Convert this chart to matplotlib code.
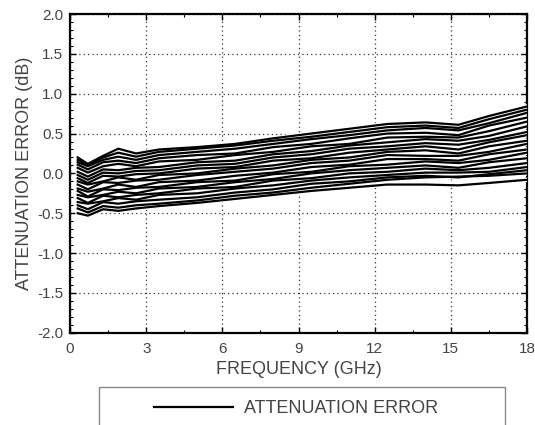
import matplotlib.pyplot as plt
from matplotlib.patches import Rectangle
from matplotlib.ticker import MultipleLocator

plt.rcParams['font.family'] = ['Liberation Sans', 'DejaVu Sans']

# frequency points (GHz)
freq = [0.3, 0.7, 1.3, 1.9, 2.6, 3.5, 5, 6.5, 8, 9.5, 11, 12.5, 14, 15.3, 16.5, 18]

# attenuation error traces (dB), one per attenuation state
t01 = [-0.50, -0.53, -0.45, -0.47, -0.44, -0.41, -0.37, -0.32, -0.27, -0.22, -0.18, -0.14, -0.14, -0.15, -0.12, -0.08]
t02 = [-0.44, -0.49, -0.41, -0.43, -0.40, -0.38, -0.34, -0.28, -0.24, -0.18, -0.13, -0.08, -0.05, -0.04, -0.03, 0.00]
t03 = [-0.40, -0.45, -0.36, -0.38, -0.35, -0.33, -0.30, -0.24, -0.20, -0.13, -0.10, -0.05, -0.03, -0.05, -0.01, 0.04]
t04 = [-0.36, -0.38, -0.35, -0.31, -0.33, -0.27, -0.25, -0.19, -0.15, -0.09, -0.05, -0.02, 0.01, 0.01, 0.02, 0.08]
t05 = [-0.31, -0.37, -0.28, -0.30, -0.27, -0.25, -0.19, -0.17, -0.09, -0.06, 0.00, 0.02, 0.06, 0.04, 0.07, 0.13]
t06 = [-0.27, -0.30, -0.27, -0.23, -0.25, -0.19, -0.17, -0.11, -0.07, 0.00, 0.04, 0.07, 0.10, 0.07, 0.14, 0.19]
t07 = [-0.22, -0.29, -0.20, -0.21, -0.18, -0.17, -0.11, -0.09, -0.01, 0.02, 0.09, 0.11, 0.15, 0.13, 0.17, 0.26]
t08 = [-0.19, -0.23, -0.19, -0.14, -0.17, -0.11, -0.09, -0.03, 0.01, 0.08, 0.11, 0.18, 0.18, 0.16, 0.24, 0.30]
t09 = [-0.14, -0.20, -0.11, -0.12, -0.09, -0.08, -0.02, 0.02, 0.06, 0.13, 0.16, 0.23, 0.22, 0.22, 0.27, 0.37]
t10 = [-0.10, -0.14, -0.10, -0.05, -0.08, -0.02, 0.00, 0.06, 0.10, 0.17, 0.20, 0.27, 0.29, 0.25, 0.34, 0.41]
t11 = [-0.06, -0.12, -0.03, -0.04, -0.01, 0.00, 0.06, 0.08, 0.16, 0.19, 0.26, 0.30, 0.34, 0.30, 0.39, 0.48]
t12 = [-0.02, -0.08, 0.01, 0.00, 0.03, 0.04, 0.10, 0.12, 0.20, 0.24, 0.31, 0.34, 0.38, 0.36, 0.42, 0.52]
t13 = [0.02, -0.04, 0.05, 0.04, 0.07, 0.08, 0.14, 0.16, 0.24, 0.28, 0.35, 0.39, 0.43, 0.41, 0.47, 0.59]
t14 = [0.07, 0.01, 0.09, 0.12, 0.09, 0.15, 0.17, 0.23, 0.27, 0.34, 0.37, 0.45, 0.46, 0.45, 0.53, 0.65]
t15 = [0.11, 0.05, 0.14, 0.16, 0.13, 0.19, 0.23, 0.25, 0.33, 0.37, 0.44, 0.50, 0.51, 0.48, 0.60, 0.70]
t16 = [0.14, 0.09, 0.17, 0.21, 0.17, 0.23, 0.27, 0.31, 0.37, 0.43, 0.48, 0.54, 0.57, 0.54, 0.63, 0.76]
t17 = [0.17, 0.11, 0.20, 0.26, 0.21, 0.27, 0.31, 0.35, 0.41, 0.46, 0.52, 0.58, 0.60, 0.57, 0.68, 0.80]
t18 = [0.20, 0.12, 0.22, 0.31, 0.25, 0.30, 0.33, 0.37, 0.44, 0.50, 0.56, 0.62, 0.64, 0.61, 0.72, 0.84]
traces = [t01, t02, t03, t04, t05, t06, t07, t08, t09, t10, t11, t12, t13, t14, t15, t16, t17, t18]

txt = '#444444'

fig = plt.figure(figsize=(5.35, 4.25), dpi=100)
ax = fig.add_axes([0.131, 0.217, 0.854, 0.750])

for i, t in enumerate(traces):
    ax.plot(freq, t, color='white', lw=3.2, zorder=3)
    ax.plot(freq, t, color='black', lw=1.6, zorder=4,
            label='ATTENUATION ERROR' if i == 0 else None)

ax.set_xlim(0, 18)
ax.set_ylim(-2.0, 2.0)
ax.xaxis.set_major_locator(MultipleLocator(3))
ax.xaxis.set_minor_locator(MultipleLocator(1.5))
ax.yaxis.set_major_locator(MultipleLocator(0.5))
ax.yaxis.set_minor_locator(MultipleLocator(0.1))
ax.set_yticks(ax.get_yticks())
ax.set_yticklabels([f'{v:.1f}' for v in ax.get_yticks()])
ax.set_ylim(-2.0, 2.0)
ax.tick_params(which='both', direction='in', top=True, right=True,
               colors='black', labelcolor=txt, labelsize=11, pad=5)
ax.tick_params(axis='x', which='major', pad=7)
ax.tick_params(which='major', length=4, width=1)
ax.tick_params(which='minor', length=2, width=0.8)
ax.grid(True, which='major', color='#333333', linestyle=(0, (1, 2.5)), lw=0.9)
for s in ax.spines.values():
    s.set_linewidth(1.6)

ax.set_xlabel('FREQUENCY (GHz)', color=txt, fontsize=13, labelpad=3)
ax.set_ylabel('ATTENUATION ERROR (dB)', color=txt, fontsize=13, labelpad=3)

fig.patches.append(Rectangle((0.185, -0.01), 0.759, 0.099, transform=fig.transFigure,
                             fill=False, edgecolor='#888888', lw=1))
handles, labels = ax.get_legend_handles_labels()
fig.legend(handles, labels, loc='center', bbox_to_anchor=(0.553, 0.039),
           frameon=False, handlelength=4.4, handletextpad=0.6,
           prop={'size': 13}, labelcolor=txt)

fig.savefig('out.png', dpi=100)
